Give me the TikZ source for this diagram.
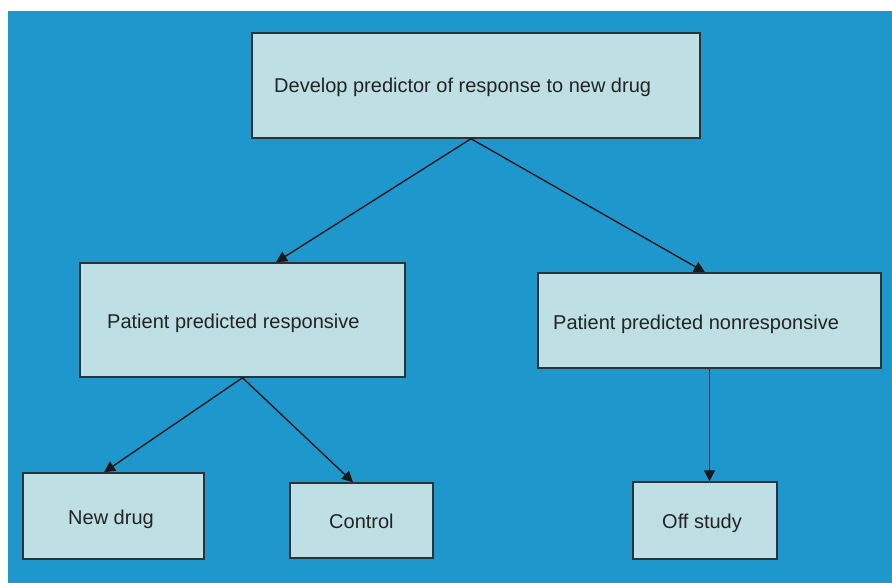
\documentclass[tikz,border=0pt]{standalone}
\usepackage{fontspec}
\setmainfont{Liberation Sans}
\usetikzlibrary{arrows.meta}
\definecolor{bgblue}{RGB}{30,152,204}
\definecolor{boxfill}{RGB}{190,224,228}
\definecolor{boxline}{RGB}{45,50,55}
\definecolor{txt}{RGB}{35,35,35}
\tikzset{
  box/.style={draw=boxline, line width=1.5pt, fill=boxfill, rectangle, inner sep=0pt},
  lbl/.style={font=\fontsize{20}{23}\selectfont, text=txt, inner sep=0pt},
  conn/.style={draw=black!90, line width=1.4pt, -{Triangle[length=11pt,width=11pt]}}
}
\begin{document}
\begin{tikzpicture}[x=1pt,y=-1pt]
\useasboundingbox (0,0) rectangle (892,583);
\fill[white] (0,0) rectangle (892,583);
\fill[bgblue] (8,11) rectangle (892,583);
% boxes
\node[box, minimum width=448pt, minimum height=105pt] (top) at (476,85.5) {};
\node[box, minimum width=325pt, minimum height=114pt] (resp) at (242.5,320) {};
\node[box, minimum width=343pt, minimum height=95pt] (nonresp) at (709.5,320.5) {};
\node[box, minimum width=181pt, minimum height=86pt] (newdrug) at (113.5,516) {};
\node[box, minimum width=143pt, minimum height=75pt] (control) at (361.5,520.5) {};
\node[box, minimum width=144pt, minimum height=77pt] (offstudy) at (705,520.5) {};
% texts
\node[lbl, anchor=base west] (toptxt) at (274,93) {Develop predictor of response to new drug};
\node[lbl, anchor=base west] (resptxt) at (107,328) {Patient predicted responsive};
\node[lbl, anchor=base west] (nonresptxt) at (553,329) {Patient predicted nonresponsive};
\node[lbl, anchor=base west] (newdrugtxt) at (68,524) {New drug};
\node[lbl, anchor=base west] (controltxt) at (329,528) {Control};
\node[lbl, anchor=base west] (offstudytxt) at (662,528) {Off study};
% connectors
\draw[conn] ([xshift=-5pt]top.south) -- ([xshift=33.5pt]resp.north);
\draw[conn] ([xshift=-5pt]top.south) -- ([xshift=-4.5pt]nonresp.north);
\draw[conn] (resp.south) -- ([xshift=-9.5pt]newdrug.north);
\draw[conn] (resp.south) -- ([xshift=-8.5pt]control.north);
\draw[conn] (nonresp.south) -- (nonresp.south |- offstudy.north);
\end{tikzpicture}
\end{document}
